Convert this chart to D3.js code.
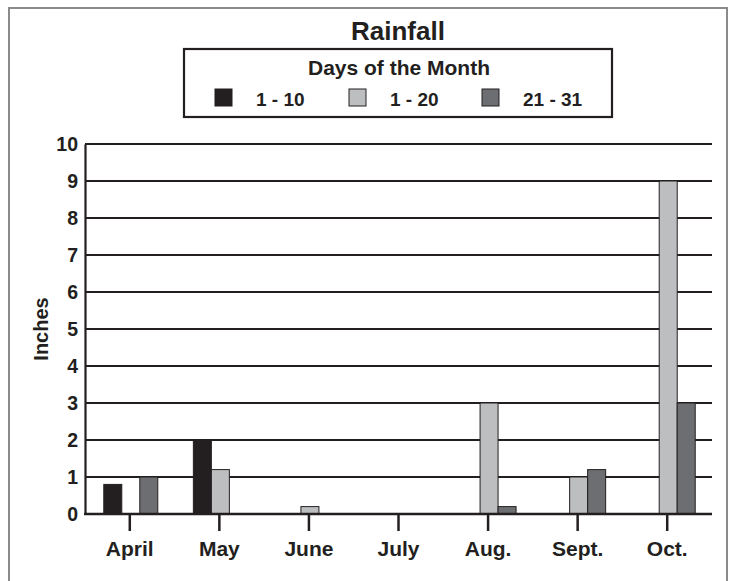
<!DOCTYPE html>
<html>
<head>
<meta charset="utf-8">
<script src="https://d3js.org/d3.v7.min.js"></script>
<style>
  body { margin: 0; background: #fff; }
  text { font-family: "Liberation Sans", Arial, sans-serif; font-weight: bold; fill: #231f20; }
</style>
</head>
<body>
<div id="chart"></div>
<script>
var months = ["April", "May", "June", "July", "Aug.", "Sept.", "Oct."];
var series = ["1 - 10", "1 - 20", "21 - 31"];
var days1to10  = [0.8, 2.0, 0, 0, 0, 0, 0];
var days1to20  = [0, 1.2, 0.2, 0, 3.0, 1.0, 9.0];
var days21to31 = [1.0, 0, 0, 0, 0.2, 1.2, 3.0];
var yTicks = [0, 1, 2, 3, 4, 5, 6, 7, 8, 9, 10];
var colors = ["#231f20", "#bcbec0", "#6d6e71"];

var W = 731, H = 581;
var svg = d3.select("#chart").append("svg")
            .attr("width", W)
            .attr("height", H);

// outer frame
svg.append("rect")
   .attr("x", 9).attr("y", 8)
   .attr("width", 718).attr("height", 620)
   .attr("fill", "none")
   .attr("stroke", "#8a8a8a")
   .attr("stroke-width", 2);

var x0 = d3.scaleBand().domain(months).range([85, 712]);
var x1 = d3.scaleBand().domain(series).range([-27, 27]);
var y  = d3.scaleLinear().domain([0, 10]).range([514, 144]);
var color = d3.scaleOrdinal().domain(series).range(colors);

// title
svg.append("text")
   .attr("x", 398).attr("y", 40)
   .attr("text-anchor", "middle")
   .style("font-size", "26px")
   .text("Rainfall");

// legend
var legend = svg.append("g");
legend.append("rect")
      .attr("x", 184).attr("y", 49)
      .attr("width", 428).attr("height", 68)
      .attr("fill", "#fff")
      .attr("stroke", "#231f20")
      .attr("stroke-width", 2.2);
legend.append("text")
      .attr("x", 399).attr("y", 75)
      .attr("text-anchor", "middle")
      .style("font-size", "21px")
      .text("Days of the Month");
var legX = [215, 349, 482];
var item = legend.selectAll("g.item")
      .data(series)
      .enter().append("g")
      .attr("class", "item")
      .attr("transform", function (d, i) { return "translate(" + legX[i] + ",89)"; });
item.append("rect")
    .attr("width", 17).attr("height", 17)
    .attr("fill", function (d) { return color(d); })
    .attr("stroke", "#231f20")
    .attr("stroke-width", 1);
item.append("text")
    .attr("x", 41).attr("y", 17)
    .style("font-size", "19px")
    .text(function (d) { return d; });

// gridlines
svg.append("g").selectAll("line")
   .data(yTicks.filter(function (d) { return d > 0; }))
   .enter().append("line")
   .attr("x1", 85).attr("x2", 712)
   .attr("y1", function (d) { return y(d); })
   .attr("y2", function (d) { return y(d); })
   .attr("stroke", "#231f20")
   .attr("stroke-width", 2.2);

// bars
var rows = months.map(function (m, i) {
  return { month: m, values: [days1to10[i], days1to20[i], days21to31[i]] };
});
var groups = svg.append("g").selectAll("g")
   .data(rows)
   .enter().append("g")
   .attr("transform", function (d) { return "translate(" + (x0(d.month) + x0.bandwidth() / 2 + 1) + ",0)"; });
groups.selectAll("rect")
   .data(function (d) {
     return d.values.map(function (v, j) { return { key: series[j], value: v }; })
                    .filter(function (e) { return e.value > 0; });
   })
   .enter().append("rect")
   .attr("x", function (d) { return x1(d.key); })
   .attr("width", x1.bandwidth())
   .attr("y", function (d) { return y(d.value); })
   .attr("height", function (d) { return y(0) - y(d.value); })
   .attr("fill", function (d) { return color(d.key); })
   .attr("stroke", "#231f20")
   .attr("stroke-width", 1);

// y axis
var yAxis = svg.append("g")
   .attr("transform", "translate(85,0)")
   .call(d3.axisLeft(y).tickValues(yTicks).tickSize(0).tickPadding(7));
yAxis.select(".domain").attr("stroke", "#231f20").attr("stroke-width", 2.2);
yAxis.selectAll(".tick text")
   .style("font-size", "19.5px")
   .style("font-family", "'Liberation Sans', Arial, sans-serif")
   .attr("fill", "#231f20");

// x axis
var xAxis = svg.append("g")
   .attr("transform", "translate(0,514)")
   .call(d3.axisBottom(x0).tickSizeOuter(0).tickSize(17).tickPadding(0));
xAxis.select(".domain").attr("stroke", "#231f20").attr("stroke-width", 2.4).attr("d", "M84,0H712");
xAxis.selectAll(".tick line").attr("stroke", "#231f20").attr("stroke-width", 2.5);
xAxis.selectAll(".tick text")
   .attr("dy", null)
   .attr("y", 42)
   .style("font-size", "21px")
   .style("font-family", "'Liberation Sans', Arial, sans-serif")
   .attr("fill", "#231f20");

// y label
svg.append("text")
   .attr("transform", "translate(48,329) rotate(-90)")
   .attr("text-anchor", "middle")
   .style("font-size", "20px")
   .text("Inches");
</script>
</body>
</html>
